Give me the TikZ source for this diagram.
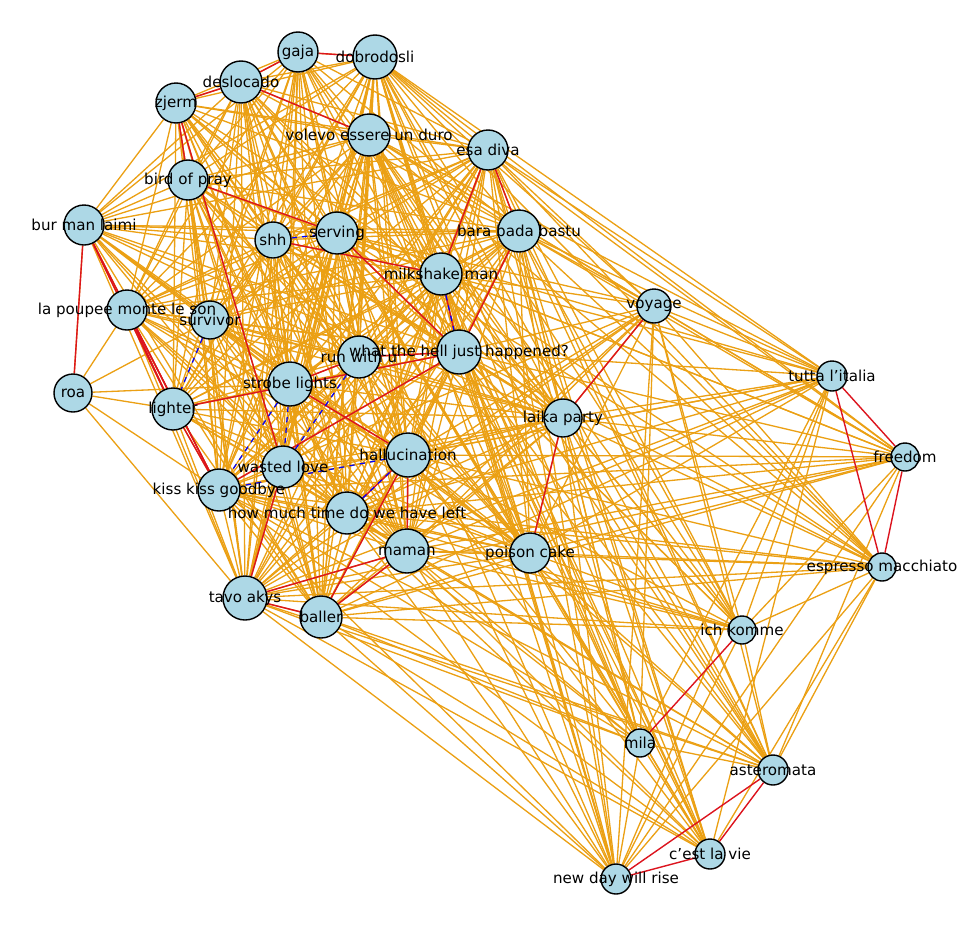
\documentclass[tikz,border=0pt]{standalone}
\usepackage{fontspec}
\setmainfont{DejaVu Sans}
\usetikzlibrary{backgrounds}
\definecolor{vfill}{RGB}{173,216,230}
\definecolor{eorange}{RGB}{235,160,20}
\definecolor{ered}{RGB}{220,20,30}
\begin{document}
\begin{tikzpicture}[x=0.2mm,y=-0.2mm,
    vert/.style={circle, draw=black, thick, fill=vfill, inner sep=0pt},
    lab/.style={font=\fontsize{8.6}{9}\selectfont, inner sep=0pt},
    oedge/.style={draw=eorange, line width=0.75pt},
    redge/.style={draw=ered, line width=0.8pt},
    bedge/.style={draw=blue, line width=0.7pt, dashed},
  ]
    \useasboundingbox (0,0) rectangle (980,939);
    \def\vertlist{gaja/298/52/20/gaja, dobro/375/57/22/dobrodosli, deslo/241/82/21/deslocado,
      zjerm/176/103/20/zjerm, volevo/369/135/21/volevo essere un duro, esa/488/150/20/esa diva,
      bird/188/180/20/bird of pray, bur/84/225/20/bur man laimi, shh/273/240/18/shh,
      serving/337/233/21/serving, bara/519/231/21/bara bada bastu, milk/441/274/21/milkshake man,
      voyage/654/306/17/voyage, poupee/127/310/20/la poupee monte le son, survivor/210/320/19/survivor,
      runu/359/357/21/run with u, wth/459/352/22/what the hell just happened?,
      tutta/832/376/15/{tutta l\char39 italia}, roa/73/393/19/roa, lighter/173/409/21/lighter,
      strobe/290/384/22/strobe lights, laika/563/418/19/laika party, hallu/408/455/22/hallucination,
      freedom/905/457/14/freedom, wasted/283/467/21/wasted love, kiss/219/490/21/kiss kiss goodbye,
      howmuch/347/513/21/how much time do we have left, maman/407/551/22/maman,
      poison/530/553/20/poison cake, espresso/882/567/14/espresso macchiato, tavo/245/598/22/tavo akys,
      baller/321/617/21/baller, ich/742/630/14/ich komme, mila/640/743/14/mila,
      aster/773/770/15/asteromata, cest/710/854/15/{c\char39 est la vie}, newday/616/879/15/new day will rise}
    % vertices
    \foreach \n/\x/\y/\r/\t in \vertlist
      \node[vert, minimum size=\r*0.4mm] (\n) at (\x,\y) {};
    \begin{pgfonlayer}{background}
      % dense left cluster
      \foreach \a [count=\i] in {gaja,dobro,deslo,zjerm,volevo,esa,bird,bur,shh,serving,bara,milk,
          poupee,survivor,runu,wth,lighter,strobe,laika,hallu,wasted,kiss,howmuch,maman,poison,tavo,baller}
        \foreach \b [count=\j] in {gaja,dobro,deslo,zjerm,volevo,esa,bird,bur,shh,serving,bara,milk,
            poupee,survivor,runu,wth,lighter,strobe,laika,hallu,wasted,kiss,howmuch,maman,poison,tavo,baller}
          {\ifnum\j>\i \draw[oedge] (\a) -- (\b);\fi}
      \foreach \b in {bur,poupee,lighter,kiss,tavo,strobe,survivor}
        \draw[oedge] (roa) -- (\b);
      % right side
      \foreach \a in {voyage,tutta,freedom,espresso,ich,mila,aster,cest,newday}
        \foreach \b in {esa,bara,milk,wth,laika,hallu,poison,maman,howmuch,tavo,baller,volevo,dobro,serving,kiss}
          \draw[oedge] (\a) -- (\b);
      \foreach \a/\b in {voyage/tutta,voyage/freedom,voyage/espresso,voyage/ich,voyage/mila,voyage/newday,
          voyage/aster,tutta/ich,tutta/mila,tutta/newday,tutta/cest,freedom/ich,freedom/aster,freedom/newday,
          espresso/ich,espresso/aster,espresso/cest,espresso/newday,ich/aster,ich/newday,mila/aster,mila/newday,mila/cest}
        \draw[oedge] (\a) -- (\b);
      % red
      \foreach \a/\b in {roa/bur,bur/lighter,bur/kiss,zjerm/deslo,deslo/gaja,gaja/dobro,zjerm/bird,
          tutta/freedom,tutta/espresso,freedom/espresso,laika/poison,laika/voyage,mila/ich,
          aster/newday,aster/cest,cest/newday,esa/bara,esa/milk,tavo/baller,baller/maman,tavo/maman,
          bara/wth,milk/wth,lighter/kiss,poupee/lighter,poupee/kiss,hallu/maman,hallu/howmuch,
          strobe/runu,lighter/wth,kiss/wth,bird/serving,shh/milk,deslo/volevo,zjerm/wasted,
          hallu/baller,strobe/hallu,wasted/tavo,runu/wth,serving/wth}
        \draw[redge] (\a) -- (\b);
      % blue
      \foreach \a/\b in {survivor/lighter,strobe/wasted,wasted/runu,hallu/kiss,shh/serving,
          milk/wth,strobe/kiss,howmuch/hallu}
        \draw[bedge] (\a) -- (\b);
    \end{pgfonlayer}
    % labels
    \foreach \n/\x/\y/\r/\t in \vertlist
      \node[lab] at (\x,\y) {\t};
\end{tikzpicture}
\end{document}
